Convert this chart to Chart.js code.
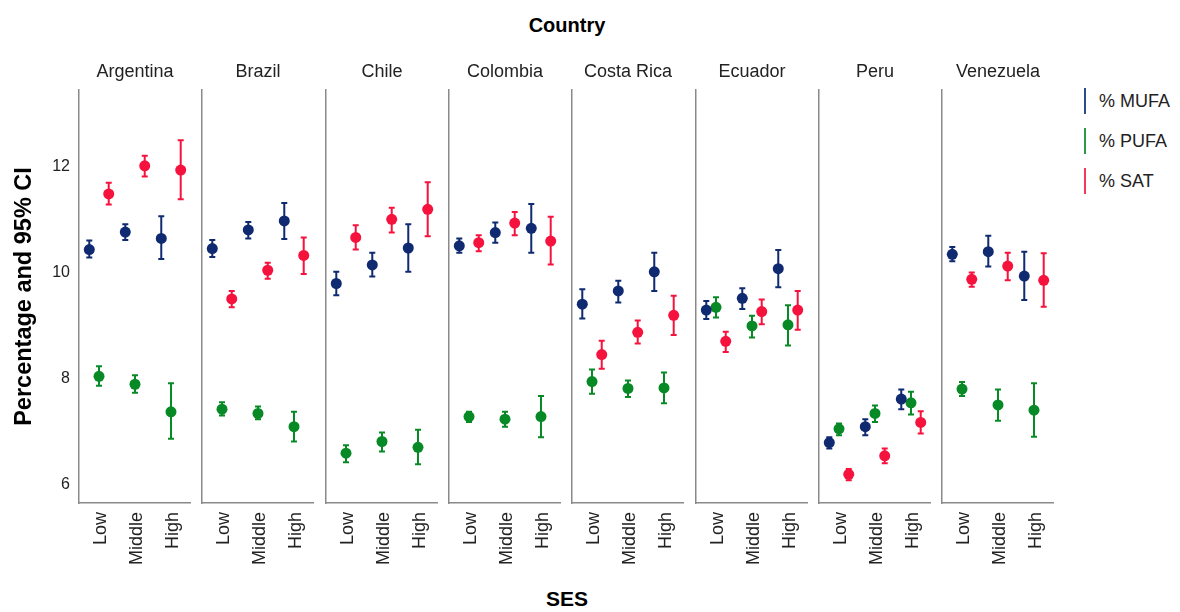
<!DOCTYPE html>
<html>
<head>
<meta charset="utf-8">
<script src="https://cdn.jsdelivr.net/npm/chart.js@4.4.0/dist/chart.umd.min.js"></script>
<style>
  body { margin: 0; background: #fff; font-family: "Liberation Sans", Arial, sans-serif; }
  #wrap { position: relative; width: 1180px; height: 612px; overflow: hidden; }
  #wrap canvas { position: absolute; top: 50px; }
  .big { position: absolute; font-weight: bold; color: #000; transform: translateX(-50%); white-space: nowrap; }
  .leg { position: absolute; left: 1084px; height: 26px; line-height: 26px; padding-left: 15px; font-size: 18px; color: #222; white-space: nowrap; }
  .leg i { position: absolute; left: 0; top: 0; width: 2px; height: 26px; }
</style>
</head>
<body>
<div id="wrap">
  <div class="big" style="left:567px;top:14px;font-size:20px">Country</div>
  <div class="big" style="left:567px;top:587px;font-size:21px">SES</div>
  <div class="leg" style="top:88px"><i style="background:#2c4a8c"></i>% MUFA</div>
  <div class="leg" style="top:128px"><i style="background:#2a9a48"></i>% PUFA</div>
  <div class="leg" style="top:168px"><i style="background:#ee3a5c"></i>% SAT</div>
</div>
<script>
const countries = ["Argentina", "Brazil", "Chile", "Colombia", "Costa Rica", "Ecuador", "Peru", "Venezuela"];
const sesLevels = ["Low", "Middle", "High"];
const yTicks = [6, 8, 10, 12];

// one row per country: Low, Middle, High
const mufaMean = [[10.44,10.77,10.65],[10.46,10.81,10.98],[9.80,10.15,10.47],[10.51,10.76,10.84],[9.41,9.66,10.02],[9.30,9.52,10.08],[6.80,7.10,7.62],[10.35,10.40,9.94]];
const mufaLo   = [[10.29,10.62,10.26],[10.30,10.65,10.64],[9.58,9.93,10.02],[10.38,10.57,10.38],[9.14,9.44,9.66],[9.13,9.32,9.73],[6.69,6.94,7.43],[10.22,10.12,9.49]];
const mufaHi   = [[10.61,10.92,11.07],[10.62,10.96,11.32],[10.02,10.38,10.92],[10.65,10.95,11.30],[9.69,9.85,10.38],[9.47,9.71,10.43],[6.90,7.24,7.80],[10.49,10.70,10.40]];

const pufaMean = [[8.05,7.90,7.38],[7.43,7.35,7.10],[6.60,6.82,6.71],[7.29,7.24,7.29],[7.95,7.82,7.83],[9.35,9.00,9.02],[7.06,7.35,7.55],[7.81,7.51,7.41]];
const pufaLo   = [[7.87,7.74,6.87],[7.31,7.24,6.82],[6.43,6.63,6.39],[7.19,7.10,6.90],[7.72,7.66,7.54],[9.16,8.78,8.63],[6.94,7.19,7.33],[7.68,7.21,6.91]];
const pufaHi   = [[8.24,8.07,7.92],[7.56,7.48,7.38],[6.75,6.99,7.04],[7.38,7.38,7.68],[8.18,7.97,8.12],[9.54,9.19,9.39],[7.16,7.50,7.76],[7.94,7.80,7.92]];

const satMean = [[11.49,12.02,11.94],[9.51,10.05,10.33],[10.67,11.01,11.20],[10.57,10.94,10.60],[8.46,8.88,9.20],[8.71,9.27,9.30],[6.20,6.55,7.18],[9.88,10.13,9.86]];
const satLo   = [[11.29,11.82,11.39],[9.35,9.89,9.98],[10.44,10.76,10.69],[10.41,10.71,10.16],[8.19,8.67,8.83],[8.51,9.03,8.93],[6.09,6.41,6.97],[9.74,9.86,9.36]];
const satHi   = [[11.70,12.21,12.50],[9.66,10.19,10.67],[10.90,11.23,11.71],[10.71,11.15,11.06],[8.72,9.10,9.57],[8.89,9.50,9.66],[6.30,6.69,7.39],[10.01,10.38,10.37]];

const series = [
  { name: "% MUFA", color: "#0f2a70", dodge: -0.27, mean: mufaMean, lo: mufaLo, hi: mufaHi },
  { name: "% PUFA", color: "#078a26", dodge: 0,     mean: pufaMean, lo: pufaLo, hi: pufaHi },
  { name: "% SAT",  color: "#f5123d", dodge: 0.27,  mean: satMean,  lo: satLo,  hi: satHi }
];

const font = "'Liberation Sans', Arial, sans-serif";

// draws the 95% CI whiskers under the points
const errorBars = {
  id: "errorBars",
  beforeDatasetsDraw(chart) {
    const { ctx, scales: { x, y } } = chart;
    chart.data.datasets.forEach(ds => {
      ctx.save();
      ctx.strokeStyle = ds.borderColor;
      ctx.lineWidth = 2;
      ds.data.forEach(p => {
        const px = x.getPixelForValue(p.x);
        const top = y.getPixelForValue(p.hi);
        const bot = y.getPixelForValue(p.lo);
        ctx.beginPath();
        ctx.moveTo(px, top); ctx.lineTo(px, bot);
        ctx.moveTo(px - 3, top); ctx.lineTo(px + 3, top);
        ctx.moveTo(px - 3, bot); ctx.lineTo(px + 3, bot);
        ctx.stroke();
      });
      ctx.restore();
    });
  }
};

// keep every panel the same size: no extra room for the rotated labels
function noPad(s) {
  s.paddingLeft = s.paddingRight = s.paddingTop = s.paddingBottom = 0;
}

const wrap = document.getElementById("wrap");
const panelW = 112, pitch = 123.3, firstAxis = 79;

countries.forEach((country, k) => {
  const yw = k === 0 ? firstAxis : 4;
  const cv = document.createElement("canvas");
  cv.width = panelW + yw;
  cv.height = 562;
  cv.style.left = (firstAxis + k * pitch - yw) + "px";
  wrap.appendChild(cv);

  new Chart(cv, {
    type: "scatter",
    data: {
      datasets: series.map(s => ({
        label: s.name,
        borderColor: s.color,
        backgroundColor: s.color,
        pointRadius: 5.5,
        pointBorderWidth: 0,
        data: sesLevels.map((_, i) => ({
          x: i + s.dodge, y: s.mean[k][i], lo: s.lo[k][i], hi: s.hi[k][i]
        }))
      }))
    },
    options: {
      responsive: false,
      animation: false,
      layout: { padding: 0, autoPadding: false },
      plugins: {
        legend: { display: false },
        tooltip: { enabled: false }
      },
      scales: {
        x: {
          type: "linear", min: -0.556, max: 2.556,
          afterBuildTicks: s => { s.ticks = sesLevels.map((_, i) => ({ value: i })); },
          afterFit: s => { s.height = 109; noPad(s); },
          grid: { display: false, drawTicks: false },
          border: { color: "#8a8a8a", width: 1.5 },
          ticks: {
            autoSkip: false, minRotation: 90, maxRotation: 90, padding: 9, labelOffset: 2,
            color: "#222", font: { size: 18, family: font },
            callback: (v, i) => sesLevels[i]
          }
        },
        // top axis only carries the country name over the panel
        top: {
          type: "linear", position: "top", min: -0.556, max: 2.556,
          afterFit: s => { s.height = 40; noPad(s); },
          grid: { display: false, drawTicks: false },
          border: { display: false },
          ticks: { display: false },
          title: {
            display: true, text: country, color: "#222",
            font: { size: 18, family: font },
            padding: { top: 10.8, bottom: 0 }
          }
        },
        y: {
          min: 5.66, max: 13.45,
          afterBuildTicks: s => { s.ticks = yTicks.map(v => ({ value: v })); },
          afterFit: s => { s.width = yw; noPad(s); },
          grid: { display: false, drawTicks: false },
          border: { color: "#8a8a8a", width: 1.5 },
          ticks: {
            display: k === 0, padding: 9, color: "#222",
            font: { size: 16, family: font }
          },
          title: {
            display: k === 0, text: "Percentage and 95% CI", color: "#000",
            font: { size: 23.5, weight: "bold", family: font },
            padding: { top: 10, bottom: 0 }
          }
        }
      }
    },
    plugins: [errorBars]
  });
});
</script>
</body>
</html>
